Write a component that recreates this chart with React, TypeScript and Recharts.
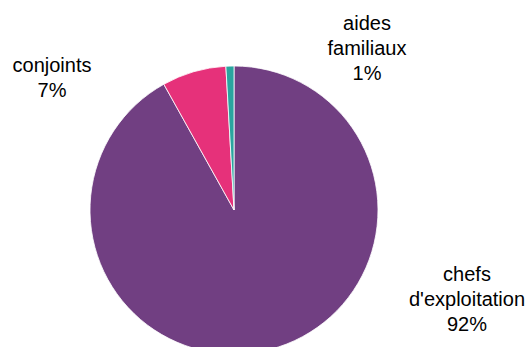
import React from "react";
import { PieChart, Pie, Cell } from "recharts";

const categories = ["chefs d'exploitation", "conjoints", "aides familiaux"];
const shares = [91.9, 7.2, 0.9];
const labelLines = [["chefs", "d'exploitation", "92%"], ["conjoints", "7%"], ["aides", "familiaux", "1%"]];
const colors = ["#713F82", "#E6317A", "#2AA59F"];

// where each label block sits, relative to the pie centre
const labelOffsets = [
  { dx: 233, dy: 89 },
  { dx: -182, dy: -133 },
  { dx: 133, dy: -162 },
];

const data = categories.map((name, i) => ({ name, value: shares[i] }));

const renderLabel = (props: any) => {
  const { cx, cy, index } = props;
  const lines = labelLines[index];
  const off = labelOffsets[index];
  const lh = 25;
  const top = cy + off.dy - ((lines.length - 1) * lh) / 2;
  return (
    <text
      x={cx + off.dx}
      y={top}
      textAnchor="middle"
      dominantBaseline="central"
      fill="#000"
      fontSize={20}
      fontFamily="'Liberation Sans', Arial, sans-serif"
    >
      {lines.map((l, j) => (
        <tspan key={j} x={cx + off.dx} dy={j === 0 ? 0 : lh}>
          {l}
        </tspan>
      ))}
    </text>
  );
};

const App = () => {
  return (
    <div style={{ position: "absolute", left: 0, top: 0, width: 531, height: 347, background: "#fff" }}>
      <PieChart width={531} height={347} margin={{ top: 0, right: 0, bottom: 0, left: 0 }}>
        <Pie
          data={data}
          dataKey="value"
          nameKey="name"
          cx={234}
          cy={210}
          outerRadius={144}
          startAngle={90}
          endAngle={-270}
          stroke="#ffffff"
          strokeWidth={0.8}
          label={renderLabel}
          labelLine={false}
          isAnimationActive={false}
        >
          {data.map((d, i) => (
            <Cell key={d.name} fill={colors[i]} />
          ))}
        </Pie>
      </PieChart>
    </div>
  );
};

export default App;
